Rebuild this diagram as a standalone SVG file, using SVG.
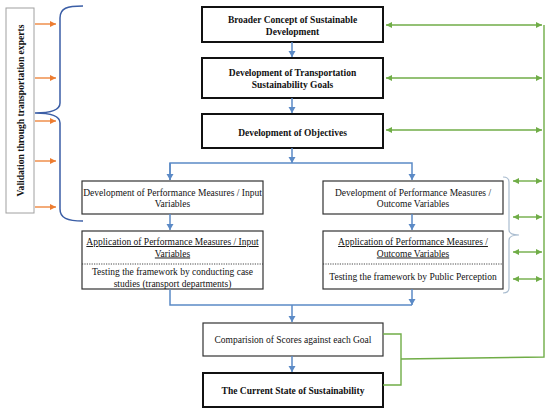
<svg xmlns="http://www.w3.org/2000/svg" width="550" height="413" viewBox="0 0 550 413">
<style>
text{font-family:"Liberation Serif","Times New Roman",serif;font-size:9.5px;fill:#111;text-anchor:middle}
.b{font-weight:bold}
.u{text-decoration:underline}
.bold{fill:#fff;stroke:#111;stroke-width:2}
.thin{fill:#fff;stroke:#333;stroke-width:1.2}
.blue{fill:none;stroke:#5b8ac6;stroke-width:1.5}
.org{fill:none;stroke:#ed7d31;stroke-width:1.3}
.grn{fill:none;stroke:#70ad47;stroke-width:1.4}
</style>
<defs>
<marker id="ab" markerUnits="userSpaceOnUse" markerWidth="8" markerHeight="8" refX="6" refY="3.5" orient="auto"><path d="M0,0 L6,3.5 L0,7 Z" fill="#5b8ac6"/></marker>
<marker id="ao" markerUnits="userSpaceOnUse" markerWidth="8" markerHeight="8" refX="6" refY="3" orient="auto"><path d="M0,0 L6,3 L0,6 Z" fill="#ed7d31"/></marker>
<marker id="ag" markerUnits="userSpaceOnUse" markerWidth="8" markerHeight="8" refX="6" refY="3" orient="auto-start-reverse"><path d="M0,0 L6,3 L0,6 Z" fill="#70ad47"/></marker>
</defs>

<g id="validation">
<rect x="6" y="8" width="28" height="205" fill="#fff" stroke="#a0a0a0" stroke-width="1"/>
<text class="b" transform="translate(23.5,110.5) rotate(-90)" style="font-size:9.6px">Validation through transportation experts</text>
</g>

<g id="n1">
<rect class="bold" x="202" y="7" width="181" height="35"/>
<text class="b" x="292.5" y="22.5">Broader Concept of Sustainable</text>
<text class="b" x="292.5" y="35">Development</text>
</g>
<g id="n2">
<rect class="bold" x="202" y="58" width="181" height="40"/>
<text class="b" x="292.5" y="75.5">Development of Transportation</text>
<text class="b" x="292.5" y="87.5">Sustainability Goals</text>
</g>
<g id="n3">
<rect class="bold" x="202" y="114" width="181" height="34"/>
<text class="b" x="292.5" y="135.5">Development of Objectives</text>
</g>
<g id="n4">
<rect class="thin" x="82" y="181" width="181" height="33"/>
<text x="172.5" y="195.5">Development of Performance Measures / Input</text>
<text x="172.5" y="206.5">Variables</text>
</g>
<g id="n5">
<rect class="thin" x="82" y="231" width="181" height="58"/>
<text class="u" x="172.5" y="245">Application of Performance Measures / Input</text>
<text class="u" x="172.5" y="256.5">Variables</text>
<line x1="82" y1="264" x2="263" y2="264" stroke="#333" stroke-width="0.9" stroke-dasharray="1.2,1.2"/>
<text x="172.5" y="274.5">Testing the framework by conducting case</text>
<text x="172.5" y="286.5">studies (transport departments)</text>
</g>
<g id="n6">
<rect class="thin" x="323" y="181" width="180" height="33"/>
<text x="413" y="195.5">Development of Performance Measures /</text>
<text x="413" y="206.5">Outcome Variables</text>
</g>
<g id="n7">
<rect class="thin" x="323" y="231" width="180" height="58"/>
<text class="u" x="413" y="245">Application of Performance Measures /</text>
<text class="u" x="413" y="256.5">Outcome Variables</text>
<line x1="323" y1="264" x2="503" y2="264" stroke="#333" stroke-width="0.9" stroke-dasharray="1.2,1.2"/>
<text x="413" y="280">Testing the framework by Public Perception</text>
</g>
<g id="n8">
<rect class="thin" x="203" y="323" width="180" height="33"/>
<text x="293" y="343.3">Comparision of Scores against each Goal</text>
</g>
<g id="n9">
<rect class="bold" x="203" y="373" width="180" height="34"/>
<text class="b" x="293" y="393.5">The Current State of Sustainability</text>
</g>

<g id="connectors">
<!-- blue flow -->
<line class="blue" x1="292" y1="42" x2="292" y2="57" marker-end="url(#ab)"/>
<line class="blue" x1="292" y1="98" x2="292" y2="113" marker-end="url(#ab)"/>
<line class="blue" x1="292" y1="148" x2="292" y2="163" marker-end="url(#ab)"/>
<polyline class="blue" points="170,180 170,163 412,163 412,180" marker-end="url(#ab)"/>
<line class="blue" x1="170" y1="163" x2="170" y2="180" marker-end="url(#ab)"/>
<line class="blue" x1="170" y1="214" x2="170" y2="230" marker-end="url(#ab)"/>
<line class="blue" x1="412" y1="214" x2="412" y2="230" marker-end="url(#ab)"/>
<polyline class="blue" points="170,289 170,305 412,305"/>
<line class="blue" x1="412" y1="289" x2="412" y2="305" marker-end="url(#ab)"/>
<line class="blue" x1="292" y1="305" x2="292" y2="322" marker-end="url(#ab)"/>
<line class="blue" x1="292" y1="356" x2="292" y2="372" marker-end="url(#ab)"/>
<!-- left brace -->
<path d="M83,6 C67,6 60,8 60,18 L60,103 C60,110 52,113 35,113 C52,113 60,116 60,123 L60,209 C60,218 67,221 83,221" fill="none" stroke="#3b5ea6" stroke-width="1.5"/>
<!-- orange arrows -->
<line class="org" x1="35" y1="24" x2="56" y2="24" marker-end="url(#ao)"/>
<line class="org" x1="35" y1="78" x2="56" y2="78" marker-end="url(#ao)"/>
<line class="org" x1="35" y1="121" x2="56" y2="121" marker-end="url(#ao)"/>
<line class="org" x1="35" y1="161" x2="56" y2="161" marker-end="url(#ao)"/>
<line class="org" x1="35" y1="207" x2="56" y2="207" marker-end="url(#ao)"/>
<!-- right small brace -->
<path d="M503,177 C507,177 509,178 509,182 L509,230 C509,233 512,235 519,235 C512,235 509,237 509,240 L509,288 C509,292 507,293 503,293" fill="none" stroke="#a9bccf" stroke-width="1.2"/>
<!-- green -->
<line class="grn" x1="386" y1="25" x2="542" y2="25" marker-start="url(#ag)" marker-end="url(#ag)"/>
<line class="grn" x1="386" y1="78" x2="542" y2="78" marker-start="url(#ag)" marker-end="url(#ag)"/>
<line class="grn" x1="386" y1="130" x2="542" y2="130" marker-start="url(#ag)" marker-end="url(#ag)"/>
<line class="grn" x1="513" y1="181" x2="542" y2="181" marker-start="url(#ag)" marker-end="url(#ag)"/>
<line class="grn" x1="513" y1="217" x2="542" y2="217" marker-start="url(#ag)" marker-end="url(#ag)"/>
<line class="grn" x1="513" y1="252" x2="542" y2="252" marker-start="url(#ag)" marker-end="url(#ag)"/>
<line class="grn" x1="513" y1="279" x2="542" y2="279" marker-start="url(#ag)" marker-end="url(#ag)"/>
<polyline class="grn" points="544,25 544,357 401,359"/>
<polyline class="grn" points="383,334 401,334 401,385 383,385"/>
</g>
</svg>
